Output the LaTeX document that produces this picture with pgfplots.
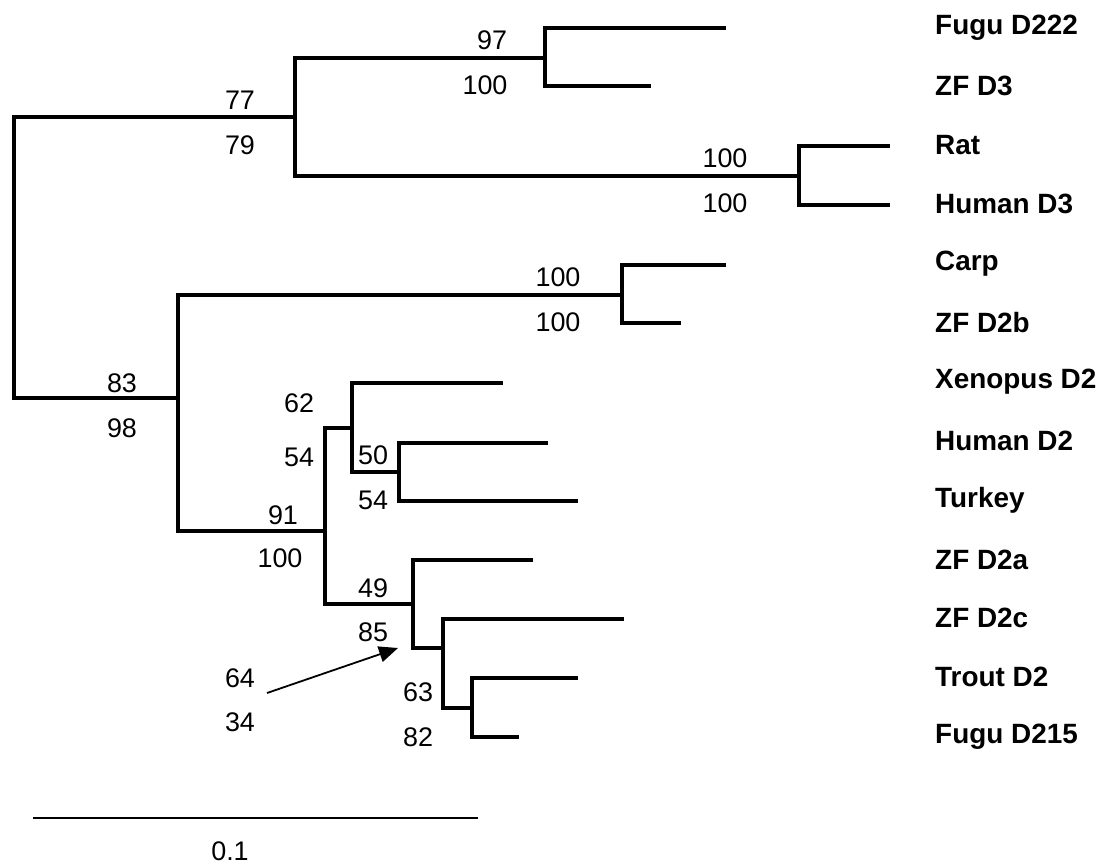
\documentclass[border=0pt]{standalone}
\usepackage{pgfplots}
\pgfplotsset{compat=1.18}
\usepackage{fontspec}
\setmainfont{Liberation Sans}
\usetikzlibrary{arrows.meta}
\begin{document}
\begin{tikzpicture}[
  tree/.style={black, line width=4bp, line cap=rect, line join=miter, mark=none},
  num/.style={font=\fontsize{27}{30}\selectfont, anchor=center, inner sep=0pt},
  lab/.style={font=\fontsize{28}{30}\selectfont\bfseries, anchor=west, inner sep=0pt},
]
\begin{axis}[
  scale only axis, width=1110bp, height=868bp,
  xmin=0, xmax=1110, ymin=0, ymax=868, y dir=reverse,
  hide axis, clip=false,
]
\path (rel axis cs:0,0) rectangle (rel axis cs:1,1);
% root
\addplot[tree] coordinates {(295,117) (14,117) (14,398) (178,398)};
% clade A (D3)
\addplot[tree] coordinates {(545,58) (295,58) (295,176) (799,176)};
\addplot[tree] coordinates {(724,28) (545,28) (545,86) (649,86)};
\addplot[tree] coordinates {(888,146) (799,146) (799,205) (888,205)};
% clade D (D2)
\addplot[tree] coordinates {(622,295) (178,295) (178,531) (325,531)};
\addplot[tree] coordinates {(724,265) (622,265) (622,323) (679,323)};
\addplot[tree] coordinates {(352,428) (325,428) (325,604) (413,604)};
\addplot[tree] coordinates {(501,383) (352,383) (352,472) (399,472)};
\addplot[tree] coordinates {(546,443) (399,443) (399,501) (576,501)};
\addplot[tree] coordinates {(531,560) (413,560) (413,648) (443,648)};
\addplot[tree] coordinates {(622,619) (443,619) (443,708) (472,708)};
\addplot[tree] coordinates {(576,678) (472,678) (472,737) (517,737)};
% arrow
\addplot[black, line width=1.8bp, mark=none, -{Triangle[length=19bp,width=16bp]}] coordinates {(267,693) (398,648)};
% scale bar
\addplot[black, line width=1.8bp, mark=none] coordinates {(33,818) (478,818)};
\node[num] at (axis cs:230,851) {0.1};
% bootstrap values
\node[num] at (axis cs:240,100) {77};
\node[num] at (axis cs:240,145) {79};
\node[num] at (axis cs:492,40) {97};
\node[num] at (axis cs:485,85) {100};
\node[num] at (axis cs:725,158) {100};
\node[num] at (axis cs:725,203) {100};
\node[num] at (axis cs:558,277) {100};
\node[num] at (axis cs:558,322) {100};
\node[num] at (axis cs:122,383) {83};
\node[num] at (axis cs:122,428) {98};
\node[num] at (axis cs:299,403) {62};
\node[num] at (axis cs:299,457) {54};
\node[num] at (axis cs:373,455) {50};
\node[num] at (axis cs:373,500) {54};
\node[num] at (axis cs:283,515) {91};
\node[num] at (axis cs:280,558) {100};
\node[num] at (axis cs:373,588) {49};
\node[num] at (axis cs:373,632) {85};
\node[num] at (axis cs:240,678) {64};
\node[num] at (axis cs:240,722) {34};
\node[num] at (axis cs:418,692) {63};
\node[num] at (axis cs:418,737) {82};
% taxa
\node[lab] at (axis cs:935,28) {Fugu D222};
\node[lab] at (axis cs:935,86) {ZF D3};
\node[lab] at (axis cs:935,145) {Rat};
\node[lab] at (axis cs:935,204) {Human D3};
\node[lab] at (axis cs:935,264) {Carp};
\node[lab] at (axis cs:935,323) {ZF D2b};
\node[lab] at (axis cs:935,382) {Xenopus D2};
\node[lab] at (axis cs:935,441) {Human D2};
\node[lab] at (axis cs:935,500) {Turkey};
\node[lab] at (axis cs:935,560) {ZF D2a};
\node[lab] at (axis cs:935,618) {ZF D2c};
\node[lab] at (axis cs:935,677) {Trout D2};
\node[lab] at (axis cs:935,737) {Fugu D215};
\end{axis}
\end{tikzpicture}
\end{document}
